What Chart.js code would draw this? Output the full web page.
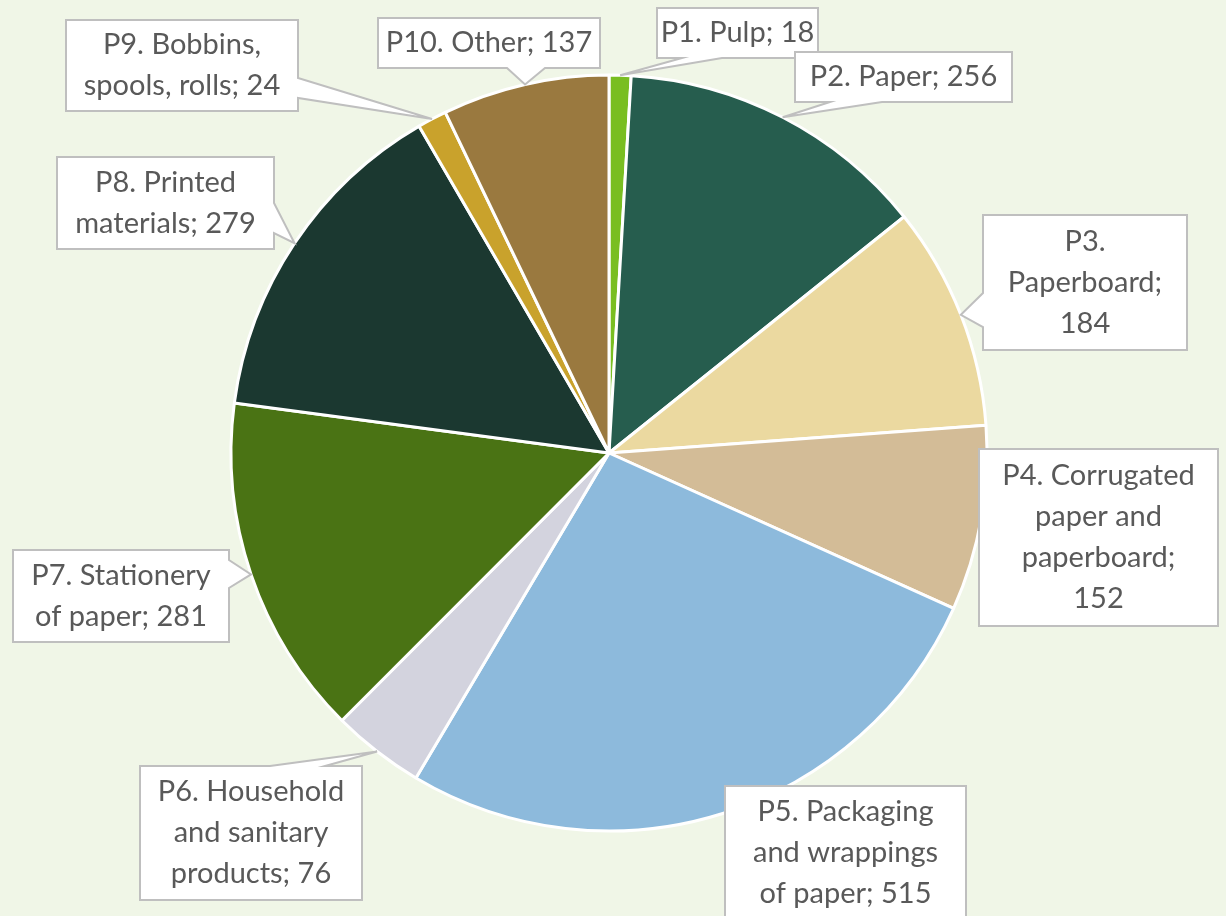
<!DOCTYPE html>
<html>
<head>
<meta charset="utf-8">
<script src="https://cdn.jsdelivr.net/npm/chart.js@4/dist/chart.umd.min.js"></script>
<style>
  html, body { margin: 0; padding: 0; background: #f0f6e7; }
  #wrap { width: 1226px; height: 916px; position: relative; }
</style>
</head>
<body>
<div id="wrap"><canvas id="myChart" width="1226" height="916"></canvas></div>
<script>
// categories and values
const categories = ['P1. Pulp', 'P2. Paper', 'P3. Paperboard', 'P4. Corrugated paper and paperboard',
  'P5. Packaging and wrappings of paper', 'P6. Household and sanitary products',
  'P7. Stationery of paper', 'P8. Printed materials', 'P9. Bobbins, spools, rolls', 'P10. Other'];
const values = [18, 256, 184, 152, 515, 76, 281, 279, 24, 137];
const sliceColors = ['#79be21', '#265d4e', '#ebd9a0', '#d3bc97', '#8dbadc',
  '#d3d3de', '#4a7314', '#1b3830', '#c9a22c', '#9a793f'];

// callout boxes: x, y, w, h, words per line, side of the wedge and where its base sits
const callouts = [
  { x: 657, y: 8, w: 161, h: 50, words: [3], side: 'bottom', a: 682, b: 722 },
  { x: 795, y: 52, w: 217, h: 50, words: [3], side: 'bottom', a: 830, b: 882 },
  { x: 983, y: 215, w: 204, h: 135, words: [1, 1, 1], side: 'left', a: 293, b: 327 },
  { x: 979, y: 449, w: 239, h: 177, words: [2, 2, 1, 1], side: null },
  { x: 725, y: 786, w: 241, h: 134, words: [2, 2, 3], side: null },
  { x: 140, y: 766, w: 222, h: 134, words: [2, 2, 2], side: 'top', a: 270, b: 325 },
  { x: 13, y: 550, w: 216, h: 92, words: [2, 3], side: 'right', a: 560, b: 588 },
  { x: 57, y: 157, w: 217, h: 92, words: [2, 2], side: 'right', a: 203, b: 233 },
  { x: 66, y: 20, w: 232, h: 91, words: [2, 3], side: 'right', a: 78, b: 98 },
  { x: 378, y: 18, w: 222, h: 50, words: [3], side: 'bottom', a: 507, b: 545 }
];

function calloutPath(ctx, c, tx, ty) {
  const x0 = c.x, y0 = c.y, x1 = c.x + c.w, y1 = c.y + c.h;
  ctx.beginPath();
  ctx.moveTo(x0, y0);
  if (c.side === 'top') { ctx.lineTo(c.a, y0); ctx.lineTo(tx, ty); ctx.lineTo(c.b, y0); }
  ctx.lineTo(x1, y0);
  if (c.side === 'right') { ctx.lineTo(x1, c.a); ctx.lineTo(tx, ty); ctx.lineTo(x1, c.b); }
  ctx.lineTo(x1, y1);
  if (c.side === 'bottom') { ctx.lineTo(c.b, y1); ctx.lineTo(tx, ty); ctx.lineTo(c.a, y1); }
  ctx.lineTo(x0, y1);
  if (c.side === 'left') { ctx.lineTo(x0, c.b); ctx.lineTo(tx, ty); ctx.lineTo(x0, c.a); }
  ctx.closePath();
}

const calloutPlugin = {
  id: 'callouts',
  afterDatasetsDraw(chart) {
    const ctx = chart.ctx;
    const meta = chart.getDatasetMeta(0);
    ctx.save();
    meta.data.forEach((arc, i) => {
      // wedge tip sits on the outer edge, mid-angle of the slice
      const p = arc.getProps(['x', 'y', 'startAngle', 'endAngle', 'outerRadius']);
      const mid = (p.startAngle + p.endAngle) / 2;
      const tx = p.x + Math.cos(mid) * p.outerRadius;
      const ty = p.y + Math.sin(mid) * p.outerRadius;
      const c = callouts[i];
      calloutPath(ctx, c, tx, ty);
      ctx.fillStyle = '#ffffff';
      ctx.fill();
      ctx.strokeStyle = '#bfbfbf';
      ctx.lineWidth = 2;
      ctx.stroke();

      // text, broken into lines by word counts
      const words = (categories[i] + '; ' + values[i]).split(' ');
      const lines = [];
      let k = 0;
      c.words.forEach(n => { lines.push(words.slice(k, k + n).join(' ')); k += n; });
      ctx.fillStyle = '#595959';
      ctx.font = '29px Lato';
      ctx.textAlign = 'center';
      ctx.textBaseline = 'middle';
      const lh = 41;
      const startY = c.y + c.h / 2 - (lines.length - 1) * lh / 2;
      lines.forEach((ln, j) => ctx.fillText(ln, c.x + c.w / 2, startY + j * lh));
    });
    ctx.restore();
  }
};

const ctx = document.getElementById('myChart').getContext('2d');
const chart = new Chart(ctx, {
  type: 'pie',
  data: {
    labels: categories,
    datasets: [{
      data: values,
      backgroundColor: sliceColors,
      borderColor: '#ffffff',
      borderWidth: 3
    }]
  },
  options: {
    responsive: false,
    animation: false,
    layout: { padding: { top: 73.5, bottom: 83.5, left: 229.5, right: 237.5 } },
    plugins: {
      legend: { display: false },
      tooltip: { enabled: false }
    }
  },
  plugins: [calloutPlugin]
});
</script>
</body>
</html>
